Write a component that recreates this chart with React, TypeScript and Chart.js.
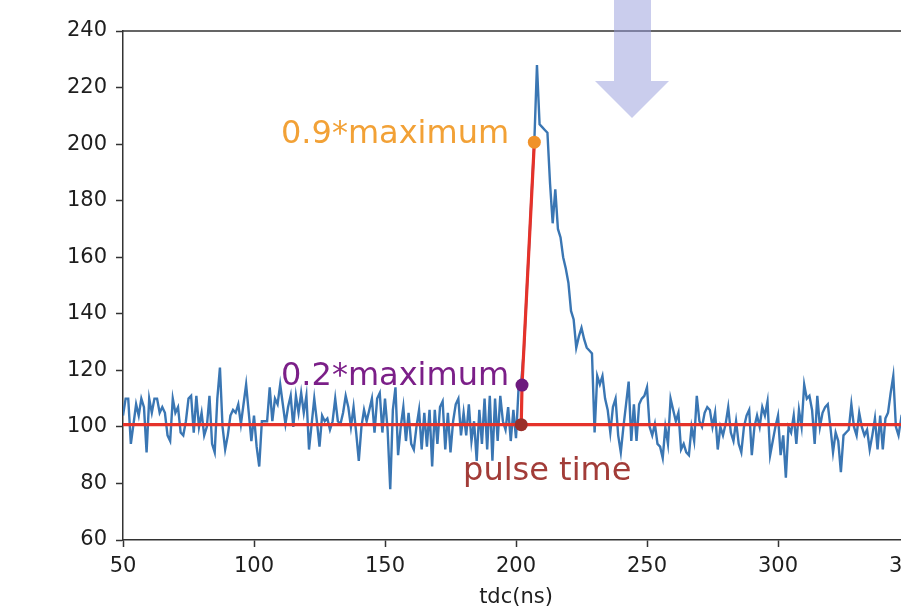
import React, { useEffect, useRef } from "react";
import { Chart, registerables } from "chart.js";

Chart.register(...registerables);

// sample grid of the trace (ns)
const T_START = 50;
const T_STEP = 1;

// ADC trace, one sample per ns from 50 ns to 350 ns
const adc = [
  104, 110, 110, 94, 101, 108, 104, 110, 107, 91,
  110, 105, 110, 110, 105, 107, 105, 97, 95, 110,
  105, 107, 98, 97, 102, 110, 111, 98, 111, 100,
  105, 97, 100, 111, 94, 91, 110, 121, 100, 92,
  97, 104, 106, 105, 108, 101, 108, 115, 105, 95,
  104, 93, 86,
  102, 102, 102, 114, 102, 110, 108, 115, 108, 101,
  107, 111, 100, 111, 105, 112, 105, 111, 92, 101,
  110, 102, 93, 104, 102, 103, 99, 102, 110, 102,
  101, 105, 111, 107, 100, 107, 98, 88, 100, 106,
  102, 106, 110, 98, 110, 112, 98, 110, 99, 78,
  106, 114, 90, 100, 107, 95, 105, 94, 92, 100,
  106, 92, 105, 93, 106, 86, 106, 94, 107, 109,
  92, 105, 91, 102, 108, 110, 97, 105, 97, 108,
  95, 102, 88, 106, 94, 110, 92, 111, 88, 110,
  95, 111, 102, 99, 107, 95, 106,
  96, 114, 116, 127, 146, 164, 183, 201, 228, 207,
  206, 205, 204, 186, 172, 184, 170, 167, 160, 156,
  151, 141, 138, 128, 132, 135, 131, 128, 127, 126,
  98, 118, 115, 118, 110,
  106, 98, 107, 110, 97, 91, 100, 108, 116, 95,
  108, 95, 108, 110, 111, 114, 100, 97, 101, 94,
  93, 89, 100, 94, 110, 106, 102, 105, 92, 94,
  91, 90, 100, 95, 111, 102, 100, 105, 107, 106,
  100, 105, 92, 100, 97, 101, 107, 98, 95, 102,
  94, 91, 100, 104, 106,
  90, 100, 104, 100, 107, 104, 109, 90, 95, 100,
  104, 90, 97, 82, 100, 98, 104, 94, 106, 100,
  115, 110, 111, 106, 94, 111, 100, 105, 107, 108,
  100, 91, 98, 95, 84, 97, 98, 99, 108, 100,
  97, 105, 100, 97, 99, 92, 97, 103, 92, 104,
  92, 103, 105, 112, 118, 100, 97, 103, 101, 100,
  102,
];

// fitted baseline and rising edge
const baselineLevel = 100.8;
const baselineT = [40, 360];
const edgeT = [202.0, 202.3, 207.0];
const edgeV = [100.8, 114.8, 200.7];

// marker points: pulse time, 0.2*max, 0.9*max
const markerT = [202.0, 202.3, 207.0];
const markerV = [100.8, 114.8, 200.7];
const markerColors = ["#9b2f2a", "#6d1a7e", "#f0922a"];

// annotation texts
const labelTexts = ["0.9*maximum", "0.2*maximum", "pulse time"];
const labelT = [110.3, 110.3, 179.8];
const labelV = [200.3, 114.8, 81.2];
const labelColors = ["#f2a136", "#7b1f88", "#a23c38"];

// axis settings
const X_MIN = 50;
const X_MAX = 350;
const X_STEP = 50;
const Y_MIN = 60;
const Y_MAX = 240;
const Y_STEP = 20;
const xTitle = "tdc(ns)";

const AXIS_COLOR = "#333333";
const TEXT_COLOR = "#1e1e1e";
const FONT = "DejaVu Sans";

const overlayPlugin = {
  id: "overlay",
  afterDatasetsDraw(chart: any) {
    const { ctx, scales } = chart;
    const xs = scales.x;
    const ys = scales.y;
    ctx.save();
    ctx.font = `32px "${FONT}"`;
    ctx.textAlign = "left";
    ctx.textBaseline = "alphabetic";
    for (let i = 0; i < labelTexts.length; i++) {
      ctx.fillStyle = labelColors[i];
      ctx.fillText(labelTexts[i], xs.getPixelForValue(labelT[i]), ys.getPixelForValue(labelV[i]));
    }
    ctx.restore();
  },
  afterDraw(chart: any) {
    const { ctx, chartArea } = chart;
    ctx.save();
    // top and right spines
    ctx.strokeStyle = AXIS_COLOR;
    ctx.lineWidth = 1.5;
    ctx.beginPath();
    ctx.moveTo(chartArea.left, chartArea.top);
    ctx.lineTo(chartArea.right, chartArea.top);
    ctx.lineTo(chartArea.right, chartArea.bottom);
    ctx.stroke();
    // overlay arrow (slide annotation)
    ctx.fillStyle = "rgba(150, 155, 220, 0.5)";
    ctx.beginPath();
    ctx.moveTo(614, 0);
    ctx.lineTo(651, 0);
    ctx.lineTo(651, 81);
    ctx.lineTo(669, 81);
    ctx.lineTo(632, 118);
    ctx.lineTo(595, 81);
    ctx.lineTo(614, 81);
    ctx.closePath();
    ctx.fill();
    ctx.restore();
  },
};

export default function App() {
  const ref = useRef<HTMLCanvasElement>(null);

  useEffect(() => {
    if (!ref.current) return;
    const trace = adc.map((v, i) => ({ x: T_START + i * T_STEP, y: v }));
    const base = baselineT.map((t) => ({ x: t, y: baselineLevel }));
    const edge = edgeT.map((t, i) => ({ x: t, y: edgeV[i] }));
    const markers = markerT.map((t, i) => ({ x: t, y: markerV[i] }));

    const tickFont = { family: FONT, size: 21 };

    const chart = new Chart(ref.current, {
      type: "line",
      data: {
        datasets: [
          {
            data: markers,
            showLine: false,
            pointRadius: 6.5,
            pointHoverRadius: 6.5,
            pointBorderWidth: 0,
            pointBackgroundColor: markerColors,
            order: 0,
          },
          {
            data: edge,
            borderColor: "#e5322a",
            borderWidth: 3.2,
            pointRadius: 0,
            tension: 0,
            order: 1,
          },
          {
            data: base,
            borderColor: "#e5322a",
            borderWidth: 3.2,
            pointRadius: 0,
            tension: 0,
            order: 1,
          },
          {
            data: trace,
            borderColor: "#3a76b3",
            borderWidth: 2.4,
            pointRadius: 0,
            tension: 0,
            order: 2,
          },
        ],
      },
      options: {
        animation: false,
        responsive: false,
        devicePixelRatio: 1,
        layout: { padding: { left: 0, top: 31, right: 31, bottom: 0 } },
        plugins: {
          legend: { display: false },
          tooltip: { enabled: false },
        },
        events: [],
        scales: {
          x: {
            type: "linear",
            min: X_MIN,
            max: X_MAX,
            ticks: { stepSize: X_STEP, font: tickFont, color: TEXT_COLOR, padding: 7, maxRotation: 0 },
            grid: {
              display: true,
              drawOnChartArea: false,
              drawTicks: true,
              tickLength: 7,
              tickWidth: 1.5,
              tickColor: AXIS_COLOR,
            },
            border: { display: true, color: AXIS_COLOR, width: 1.5 },
            title: {
              display: true,
              text: xTitle,
              font: { family: FONT, size: 21 },
              color: TEXT_COLOR,
              padding: { top: 0, bottom: 0 },
            },
            afterFit: (s: any) => {
              s.height = 70;
            },
          },
          y: {
            type: "linear",
            min: Y_MIN,
            max: Y_MAX,
            ticks: { stepSize: Y_STEP, font: tickFont, color: TEXT_COLOR, padding: 9 },
            grid: {
              display: true,
              drawOnChartArea: false,
              drawTicks: true,
              tickLength: 7,
              tickWidth: 1.5,
              tickColor: AXIS_COLOR,
            },
            border: { display: true, color: AXIS_COLOR, width: 1.5 },
            afterFit: (s: any) => {
              s.width = 123;
            },
          },
        },
      },
      plugins: [overlayPlugin],
    });
    return () => chart.destroy();
  }, []);

  return (
    <div
      style={{
        position: "fixed",
        left: 0,
        top: 0,
        width: 901,
        height: 610,
        overflow: "hidden",
        background: "#ffffff",
      }}
    >
      <canvas ref={ref} width={940} height={610} style={{ display: "block" }} />
    </div>
  );
}
